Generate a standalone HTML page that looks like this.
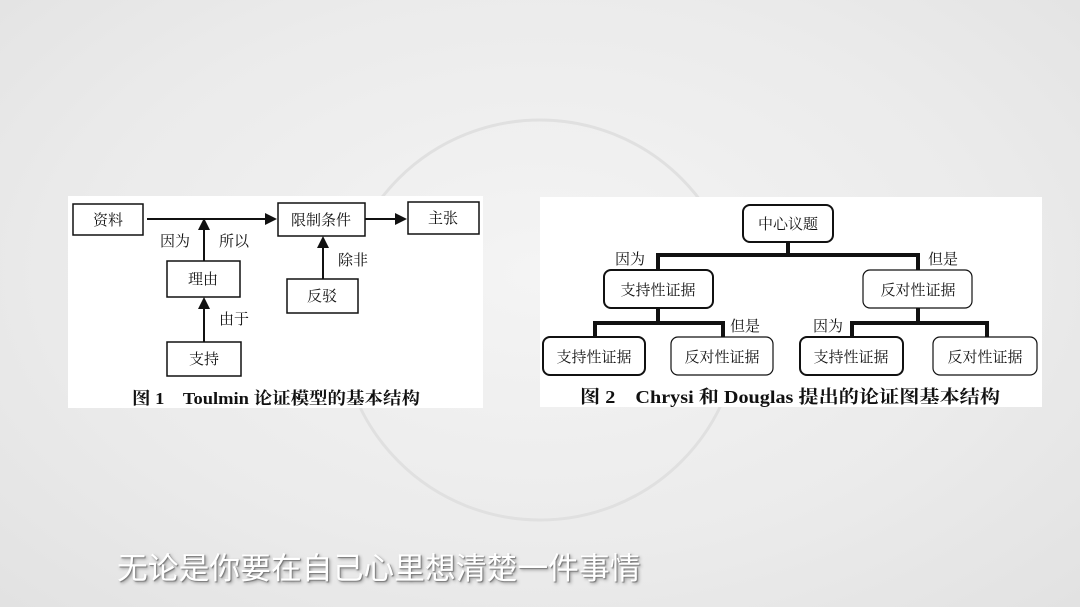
<!DOCTYPE html>
<html><head><meta charset="utf-8"><style>
html,body{margin:0;padding:0;width:1080px;height:607px;overflow:hidden;background:#ececec;}
body{background:radial-gradient(ellipse at 50% 45%,#f4f4f4 0%,#ebebeb 60%,#e2e2e2 100%);position:relative;font-family:"Liberation Serif","Noto Serif CJK SC",serif;}
svg{position:absolute;left:0;top:0;}
.sub{position:absolute;left:117px;top:543px;font-family:"Liberation Sans","Noto Sans CJK SC",sans-serif;font-size:30.8px;color:#fff;letter-spacing:0;white-space:nowrap;text-shadow:1px 1px 1px #777,2px 2px 3px #999;}
</style></head><body>
<svg width="1080" height="607" viewBox="0 0 1080 607" font-family="'Liberation Serif','Noto Serif CJK SC',serif">
<circle cx="540" cy="320" r="200" fill="none" stroke="#e0e0e0" stroke-width="3"/>
<rect x="68" y="196" width="415" height="212" fill="#fff"/>
<rect x="540" y="197" width="502" height="210" fill="#fff"/>
<g fill="none" stroke="#111" stroke-width="1.5">
<rect x="73" y="204" width="70" height="31"/>
<rect x="278" y="203" width="87" height="33"/>
<rect x="408" y="202" width="71" height="32"/>
<rect x="167" y="261" width="73" height="36"/>
<rect x="167" y="342" width="74" height="34"/>
<rect x="287" y="279" width="71" height="34"/>
</g>
<g stroke="#111" stroke-width="2">
<line x1="147" y1="219" x2="268" y2="219"/>
<line x1="365" y1="219" x2="398" y2="219"/>
<line x1="204" y1="261" x2="204" y2="228"/>
<line x1="204" y1="342" x2="204" y2="306"/>
<line x1="323" y1="279" x2="323" y2="245"/>
</g>
<g fill="#111">
<polygon points="277,219 265,213 265,225"/>
<polygon points="407,219 395,213 395,225"/>
<polygon points="204,218 198,230 210,230"/>
<polygon points="204,297 198,309 210,309"/>
<polygon points="323,236 317,248 329,248"/>
</g>
<g font-size="15" fill="#111" text-anchor="middle">
<text x="108" y="225">资料</text>
<text x="321" y="225">限制条件</text>
<text x="443" y="223">主张</text>
<text x="203" y="284">理由</text>
<text x="204" y="364">支持</text>
<text x="322" y="301">反驳</text>
<text x="175" y="246">因为</text>
<text x="234" y="246">所以</text>
<text x="353" y="265">除非</text>
<text x="234" y="324">由于</text>
</g>
<text x="132" y="404" font-size="17" font-weight="bold" fill="#111" textLength="288" lengthAdjust="spacingAndGlyphs">图 1　Toulmin 论证模型的基本结构</text>

<g fill="none" stroke="#111" stroke-width="4">
<polyline points="788,242 788,255"/>
<polyline points="658,270 658,255 918,255 918,270"/>
<polyline points="658,308 658,323"/>
<polyline points="595,337 595,323 723,323 723,337"/>
<polyline points="918,308 918,323"/>
<polyline points="852,337 852,323 987,323 987,337"/>
</g>
<g fill="#fff" stroke="#111">
<rect x="743" y="205" width="90" height="37" rx="7" stroke-width="2"/>
<rect x="604" y="270" width="109" height="38" rx="7" stroke-width="2"/>
<rect x="863" y="270" width="109" height="38" rx="7" stroke-width="1.2"/>
<rect x="543" y="337" width="102" height="38" rx="7" stroke-width="2"/>
<rect x="671" y="337" width="102" height="38" rx="7" stroke-width="1.2"/>
<rect x="800" y="337" width="103" height="38" rx="7" stroke-width="2"/>
<rect x="933" y="337" width="104" height="38" rx="7" stroke-width="1.2"/>
</g>
<g font-size="15" fill="#111" text-anchor="middle">
<text x="788" y="229">中心议题</text>
<text x="658" y="295">支持性证据</text>
<text x="918" y="295">反对性证据</text>
<text x="594" y="362">支持性证据</text>
<text x="722" y="362">反对性证据</text>
<text x="851" y="362">支持性证据</text>
<text x="985" y="362">反对性证据</text>
<text x="630" y="264">因为</text>
<text x="943" y="264">但是</text>
<text x="745" y="331">但是</text>
<text x="828" y="331">因为</text>
</g>
<text x="580" y="403" font-size="18" font-weight="bold" fill="#111" textLength="420" lengthAdjust="spacingAndGlyphs">图 2　Chrysi 和 Douglas 提出的论证图基本结构</text>
</svg>
<div class="sub">无论是你要在自己心里想清楚一件事情</div>
</body></html>
